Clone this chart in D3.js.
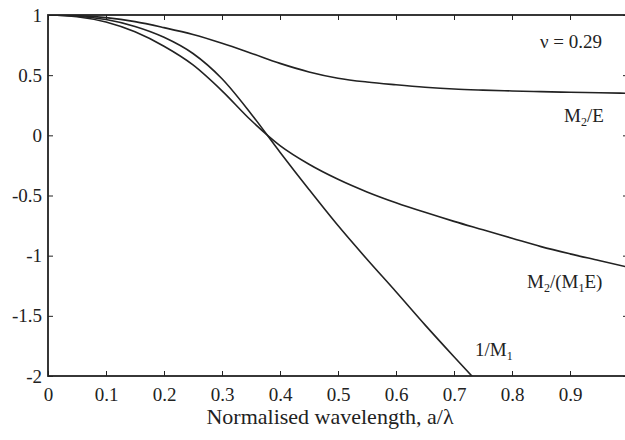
<!DOCTYPE html>
<html>
<head>
<meta charset="utf-8">
<script src="https://cdn.jsdelivr.net/npm/d3@7"></script>
<style>
  html, body { margin: 0; padding: 0; background: #fff; }
  svg { display: block; }
  text { font-family: "Liberation Serif", "Times New Roman", serif; fill: #222; }
</style>
</head>
<body>
<svg id="chart" width="625" height="440"></svg>
<script>
// Normalised wavelength sample points
const wavelength = [0, 0.05, 0.1, 0.15, 0.2, 0.25, 0.3, 0.35, 0.4, 0.45, 0.5, 0.55, 0.6, 0.65, 0.7, 0.75, 0.8, 0.85, 0.9, 0.95, 0.995];

// Ratio curves
const m2OverE   = [1, 0.995, 0.978, 0.945, 0.895, 0.838, 0.765, 0.683, 0.598, 0.527, 0.475, 0.443, 0.420, 0.400, 0.385, 0.376, 0.369, 0.363, 0.358, 0.354, 0.350];
const invM1     = [1, 0.990, 0.962, 0.905, 0.815, 0.680, 0.470, 0.180, -0.140, -0.450, -0.750, -1.030, -1.300, -1.575, -1.840, -2.100, null, null, null, null, null];
const m2OverM1E = [1, 0.986, 0.942, 0.860, 0.740, 0.585, 0.370, 0.125, -0.085, -0.240, -0.365, -0.470, -0.560, -0.640, -0.715, -0.785, -0.855, -0.925, -0.985, -1.040, -1.090];

const xTicks = [0, 0.1, 0.2, 0.3, 0.4, 0.5, 0.6, 0.7, 0.8, 0.9];
const yTicks = [1, 0.5, 0, -0.5, -1, -1.5, -2];

const svg = d3.select("#chart");
const plotLeft = 48, plotRight = 628, plotTop = 15, plotBottom = 376;

const x = d3.scaleLinear().domain([0, 1]).range([plotLeft, plotRight]);
const y = d3.scaleLinear().domain([-2, 1]).range([plotBottom, plotTop]);

const ink = "#222";
const plain = d => String(d);   // hyphen-minus, no trailing zeros

// clip region for curves
svg.append("defs").append("clipPath").attr("id", "plotClip")
  .append("rect").attr("x", plotLeft).attr("y", plotTop)
  .attr("width", plotRight - plotLeft).attr("height", plotBottom - plotTop);

// axes with inward ticks on all four sides
const axB = d3.axisBottom(x).tickValues(xTicks).tickSize(-5).tickPadding(12).tickFormat(plain);
const axT = d3.axisTop(x).tickValues(xTicks).tickSize(-5).tickFormat("");
const axL = d3.axisLeft(y).tickValues(yTicks).tickSize(-5).tickPadding(6).tickFormat(plain);
const axR = d3.axisRight(y).tickValues(yTicks).tickSize(-5).tickFormat("");

function styleAxis(g) {
  g.select(".domain").remove();
  g.selectAll(".tick line").attr("stroke", ink).attr("stroke-width", 1);
  g.selectAll(".tick text").attr("font-size", 19).attr("fill", ink)
    .style("font-family", '"Liberation Serif", serif');
}

svg.append("g").attr("transform", `translate(0,${plotBottom})`).call(axB).call(styleAxis);
svg.append("g").attr("transform", `translate(0,${plotTop})`).call(axT).call(styleAxis);
svg.append("g").attr("transform", `translate(${plotLeft},0)`).call(axL).call(styleAxis);
svg.append("g").attr("transform", `translate(${plotRight},0)`).call(axR).call(styleAxis);

// frame
svg.append("rect").attr("x", plotLeft).attr("y", plotTop)
  .attr("width", plotRight - plotLeft).attr("height", plotBottom - plotTop)
  .attr("fill", "none").attr("stroke", ink).attr("stroke-width", 1.8);

// curves
const line = d3.line()
  .defined(d => d[1] !== null)
  .x(d => x(d[0])).y(d => y(d[1]))
  .curve(d3.curveMonotoneX);

[m2OverE, invM1, m2OverM1E].forEach(series => {
  svg.append("path")
    .datum(wavelength.map((w, i) => [w, series[i]]))
    .attr("clip-path", "url(#plotClip)")
    .attr("d", line)
    .attr("fill", "none").attr("stroke", ink).attr("stroke-width", 1.6);
});

// curve labels; subscripts drop 4px and the following text returns to the baseline
function label(px, py, parts) {
  const t = svg.append("text").attr("x", px).attr("y", py).attr("font-size", 19);
  let lowered = false;
  parts.forEach(p => {
    const span = t.append("tspan");
    if (p.sub) {
      span.attr("font-size", 12).attr("dy", 4).text(p.sub);
      lowered = true;
    } else {
      if (lowered) { span.attr("dy", -4); lowered = false; }
      span.text(p.t);
    }
  });
  return t;
}

label(540, 48, [{ t: "ν = 0.29" }]);
label(564, 122, [{ t: "M" }, { sub: "2" }, { t: "/E" }]);
label(527, 288, [{ t: "M" }, { sub: "2" }, { t: "/(M" }, { sub: "1" }, { t: "E)" }]);
label(475, 356, [{ t: "1/M" }, { sub: "1" }]);

// axis title
svg.append("text").attr("x", 330).attr("y", 424).attr("text-anchor", "middle")
  .attr("font-size", 22).text("Normalised wavelength, a/λ");
</script>
</body>
</html>
